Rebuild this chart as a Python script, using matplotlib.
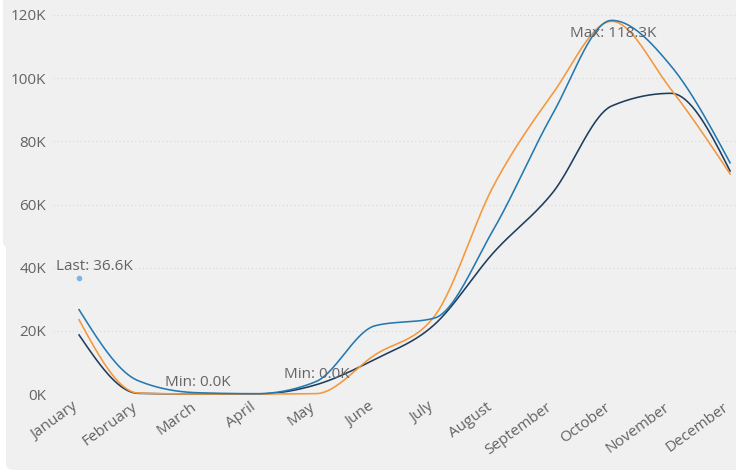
import numpy as np
import matplotlib
matplotlib.use("Agg")
import matplotlib.pyplot as plt
import matplotlib.transforms as mtrans
from matplotlib.patches import FancyBboxPatch

plt.rcParams['font.family'] = ['Open Sans', 'DejaVu Sans']

months = ["January", "February", "March", "April", "May", "June", "July",
          "August", "September", "October", "November", "December"]
series_blue = [26.7, 4.2, 0.4, 0.1, 3.9, 21.6, 24.0, 52.0, 88.6, 118.3, 103.9, 73.2]
series_orange = [23.5, 0.3, 0.0, 0.0, 0.1, 12.4, 24.5, 65.8, 95.0, 118.0, 96.5, 69.7]
series_navy = [18.7, 0.2, 0.0, 0.0, 2.9, 11.0, 21.9, 44.7, 63.7, 91.2, 95.2, 70.6]
last_value = 36.6
yticks = [0, 20, 40, 60, 80, 100, 120]
ytick_labels = ["0K", "20K", "40K", "60K", "80K", "100K", "120K"]

c_blue = "#2479b0"
c_orange = "#f5973a"
c_navy = "#1c3d5e"
c_dot = "#7cb4e4"
c_text = "#636363"
c_bg = "#f0f0f0"


def monotone(x, y, n=40):
    x = np.asarray(x, float)
    y = np.asarray(y, float)
    h = np.diff(x)
    s = np.diff(y) / h
    m = np.zeros_like(y)
    for i in range(1, len(y) - 1):
        s0, s1 = s[i - 1], s[i]
        p = (s0 * h[i] + s1 * h[i - 1]) / (h[i - 1] + h[i])
        m[i] = (np.sign(s0) + np.sign(s1)) * min(abs(s0), abs(s1), 0.5 * abs(p))
    m[0] = (3 * s[0] - m[1]) / 2
    m[-1] = (3 * s[-1] - m[-2]) / 2
    xs, ys = [], []
    for i in range(len(y) - 1):
        t = np.linspace(0, 1, n, endpoint=(i == len(y) - 2))
        h00 = 2 * t**3 - 3 * t**2 + 1
        h10 = t**3 - 2 * t**2 + t
        h01 = -2 * t**3 + 3 * t**2
        h11 = t**3 - t**2
        xs.append(x[i] + t * h[i])
        ys.append(h00 * y[i] + h10 * h[i] * m[i] + h01 * y[i + 1] + h11 * h[i] * m[i + 1])
    return np.concatenate(xs), np.concatenate(ys)


W, H = 736, 472
fig = plt.figure(figsize=(W / 100, H / 100), dpi=100, facecolor="white")

def fbox(x0, y0, x1, y1):
    return FancyBboxPatch((x0 / W, 1 - y1 / H), (x1 - x0) / W, (y1 - y0) / H,
                          boxstyle="round,pad=0,rounding_size=0.012",
                          transform=fig.transFigure, facecolor=c_bg,
                          edgecolor="none", zorder=-5)

fig.patches.append(fbox(3, -30, 760, 248))
fig.patches.append(fbox(6, 230, 760, 470))

ax = fig.add_axes([53 / W, (H - 394) / H, (W - 53) / W, (394 - 15) / H])
ax.set_facecolor("none")
ax.set_zorder(1)
x = np.arange(len(months))
ax.set_xlim(-0.44, 11.1)
ax.set_ylim(0, 120)

for yv in yticks:
    ax.axhline(yv, color="#d8d8d8", lw=0.8, ls=(0, (1, 2.5)), zorder=1)

for ser, col in [(series_navy, c_navy), (series_orange, c_orange), (series_blue, c_blue)]:
    xs, ys = monotone(x, ser)
    ax.plot(xs, ys, color=col, lw=1.15, clip_on=False, zorder=3)

fs = 11
ax.scatter([0], [last_value], s=9, color=c_dot, zorder=4, clip_on=False)
ax.text(0.26, last_value + 1.5, f"Last: {last_value}K", color=c_text, fontsize=fs,
        ha="center", va="bottom")
ax.text(2, 3.6, "Min: 0.0K", color=c_text, fontsize=fs, ha="center", va="center")
ax.text(4.02, 6.3, "Min: 0.0K", color=c_text, fontsize=fs, ha="center", va="center",
        zorder=4)
ax.text(9.03, 114.3, f"Max: {max(series_blue)}K", color=c_text, fontsize=fs,
        ha="center", va="center", zorder=4)

ax.set_yticks(yticks)
ax.set_yticklabels(ytick_labels, color=c_text, fontsize=fs)
ax.set_xticks(x)
ax.set_xticklabels(months, color=c_text, fontsize=fs, rotation=36,
                   ha="right", va="top", rotation_mode="anchor")
ax.tick_params(axis="both", length=0)
ax.tick_params(axis="y", pad=5)
ax.tick_params(axis="x", pad=4)
offset = mtrans.ScaledTranslation(-7 / 100, 0, fig.dpi_scale_trans)
for lab in ax.get_xticklabels():
    lab.set_transform(lab.get_transform() + offset)
for sp in ax.spines.values():
    sp.set_visible(False)

fig.savefig("out.png", dpi=100, facecolor="white")
